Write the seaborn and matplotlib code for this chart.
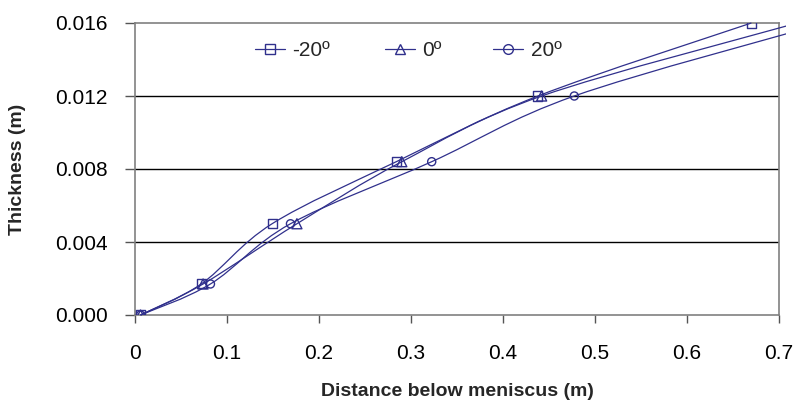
import numpy as np
import pandas as pd
import matplotlib
matplotlib.use("Agg")
import matplotlib.pyplot as plt
from matplotlib.path import Path
from matplotlib.patches import PathPatch
from matplotlib.lines import Line2D
from matplotlib.legend import Legend
from matplotlib.transforms import Bbox
import seaborn as sns

# ---- data ----
series_names = ["-20º", "0º", "20º"]
thickness = [0.0, 0.0017, 0.005, 0.0084, 0.012, 0.016]
dist_m20 = [0.006, 0.072, 0.149, 0.284, 0.438, 0.670]
dist_0 = [0.006, 0.074, 0.176, 0.290, 0.442, 0.720]
dist_20 = [0.006, 0.082, 0.169, 0.3225, 0.4775, 0.750]
markers = ["s", "^", "o"]
marker_sizes = [42, 52, 34]
x_ticks = [0, 0.1, 0.2, 0.3, 0.4, 0.5, 0.6, 0.7]
x_tick_labels = ["0", "0.1", "0.2", "0.3", "0.4", "0.5", "0.6", "0.7"]
y_ticks = [0.0, 0.004, 0.008, 0.012, 0.016]
y_tick_labels = ["0.000", "0.004", "0.008", "0.012", "0.016"]

df = pd.concat([
    pd.DataFrame({"dist": d, "thick": thickness, "series": n})
    for d, n in zip([dist_m20, dist_0, dist_20], series_names)
], ignore_index=True)

sns.set_theme(style="white")
plt.rcParams["font.family"] = ["Liberation Sans", "DejaVu Sans"]

W, H = 796, 407
fig = plt.figure(figsize=(W / 100, H / 100), dpi=100)
L, R, B, T = 135, 779, 315, 23
ax = fig.add_axes([L / W, (H - B) / H, (R - L) / W, (B - T) / H])

line_col = "#30308c"

def smooth_path(xs, ys):
    # Excel-style smoothed line: cubic Bezier through the points
    pts = np.column_stack([xs, ys])
    n = len(pts)
    verts = [pts[0]]
    codes = [Path.MOVETO]
    for i in range(n - 1):
        p0 = pts[i - 1] if i > 0 else pts[i]
        p1 = pts[i]
        p2 = pts[i + 1]
        p3 = pts[i + 2] if i + 2 < n else pts[i + 1]
        c1 = p1 + (p2 - p0) / 6.0
        c2 = p2 - (p3 - p1) / 6.0
        verts += [c1, c2, p2]
        codes += [Path.CURVE4] * 3
    return Path(verts, codes)

clip = Bbox([[L, 0], [786, H]])
for name in series_names:
    sub = df[df.series == name]
    patch = PathPatch(smooth_path(sub.dist.values, sub.thick.values),
                      facecolor="none", edgecolor=line_col, lw=0.9,
                      transform=ax.transData, zorder=3)
    ax.add_patch(patch)
    patch.set_clip_box(clip)

for name, mk, ms in zip(series_names, markers, marker_sizes):
    sub = df[df.series == name]
    sns.scatterplot(data=sub, x="dist", y="thick", marker=mk, s=ms,
                    facecolor="none", edgecolor=line_col, linewidth=1.0,
                    ax=ax, zorder=4, legend=False)

ax.set_xlim(0, 0.7)
ax.set_ylim(0, 0.016)
ax.set_xticks(x_ticks)
ax.set_xticklabels(x_tick_labels)
ax.set_yticks(y_ticks)
ax.set_yticklabels(y_tick_labels)
ax.tick_params(axis="both", labelsize=15, colors="#000000")
ax.tick_params(axis="x", direction="out", length=6, width=1, color="#555555", bottom=True, pad=15)
ax.tick_params(axis="y", direction="out", length=7.5, width=1, color="#555555", left=True, pad=12)

for y in y_ticks[1:-1]:
    ax.axhline(y, color="black", lw=1, zorder=1)
for s in ax.spines.values():
    s.set_color("#808080")
    s.set_linewidth(1.2)
    s.set_zorder(2)

ax.set_xlabel("Distance below meniscus (m)", fontsize=14, fontweight="bold", labelpad=14)
ax.set_ylabel("Thickness (m)", fontsize=14, fontweight="bold", labelpad=21)

handle_x = [255, 385, 493]
for name, mk, hx in zip(series_names, markers, handle_x):
    h = Line2D([0], [0], color=line_col, lw=0.9, marker=mk, markersize=7,
               markerfacecolor="none", markeredgecolor=line_col)
    leg = Legend(ax, [h], [name], loc="center left",
                 bbox_to_anchor=((hx - L) / (R - L), (B - 51) / (B - T)),
                 frameon=False, fontsize=15, handlelength=1.45, handletextpad=0.35,
                 borderaxespad=0, borderpad=0)
    ax.add_artist(leg)

fig.savefig("out.png", dpi=100)
